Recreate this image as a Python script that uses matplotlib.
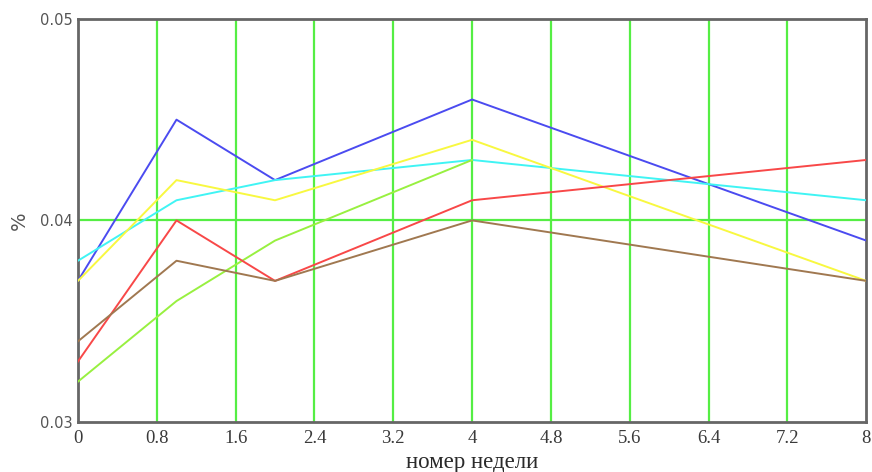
import numpy as np
import matplotlib.pyplot as plt

weeks = [0, 1, 2, 4, 8]
blue = [0.037, 0.045, 0.042, 0.046, 0.039]
cyan = [0.038, 0.041, 0.042, 0.043, 0.041]
yellow = [0.037, 0.042, 0.041, 0.044, 0.037]
red = [0.033, 0.040, 0.037, 0.041, 0.043]
brown = [0.034, 0.038, 0.037, 0.040, 0.037]
# the light green series stops at week 4
weeks_green = [0, 1, 2, 4]
lgreen = [0.032, 0.036, 0.039, 0.043]

xticks = [0, 0.8, 1.6, 2.4, 3.2, 4, 4.8, 5.6, 6.4, 7.2, 8]
xtick_labels = ['0', '0.8', '1.6', '2.4', '3.2', '4', '4.8', '5.6', '6.4', '7.2', '8']
yticks = [0.03, 0.04, 0.05]
ytick_labels = ['0.03', '0.04', '0.05']

fig = plt.figure(figsize=(8.72, 4.72), dpi=100)
ax = fig.add_axes([0.0894, 0.106, 0.904, 0.854])

grid_c = '#55ee44'
for xv in xticks[1:-1]:
    ax.axvline(xv, color=grid_c, lw=1.6, zorder=1)
ax.axhline(0.04, color=grid_c, lw=1.6, zorder=1)

ax.plot(weeks, blue, color='#4b4bf0', lw=1.4, zorder=3)
ax.plot(weeks, cyan, color='#40f4f4', lw=1.4, zorder=3)
ax.plot(weeks, yellow, color='#f8f840', lw=1.4, zorder=3)
ax.plot(weeks_green, lgreen, color='#98f040', lw=1.4, zorder=3)
ax.plot(weeks, red, color='#f84848', lw=1.4, zorder=3)
ax.plot(weeks, brown, color='#a07850', lw=1.4, zorder=3)

ax.set_xlim(0, 8)
ax.set_ylim(0.03, 0.05)
ax.set_xticks(xticks)
ax.set_xticklabels(xtick_labels, family='Liberation Serif', fontsize=13.5, color='#3a3a3a')
ax.set_yticks(yticks)
ax.set_yticklabels(ytick_labels, family='DejaVu Sans', fontsize=10.5, color='#555555')
ax.tick_params(axis='x', length=0, pad=6)
ax.tick_params(axis='y', length=0, pad=4)

for s in ax.spines.values():
    s.set_color('#666666')
    s.set_linewidth(2)

ax.set_xlabel('номер недели', family='Liberation Serif', fontsize=16.5, color='#2a2a2a', va='center')
ax.set_ylabel('%', family='DejaVu Sans', fontsize=14, color='#555555', va='center')
ax.xaxis.set_label_coords(0.5, -0.100)
ax.yaxis.set_label_coords(-0.074, 0.5)

fig.savefig('out.png', dpi=100)
